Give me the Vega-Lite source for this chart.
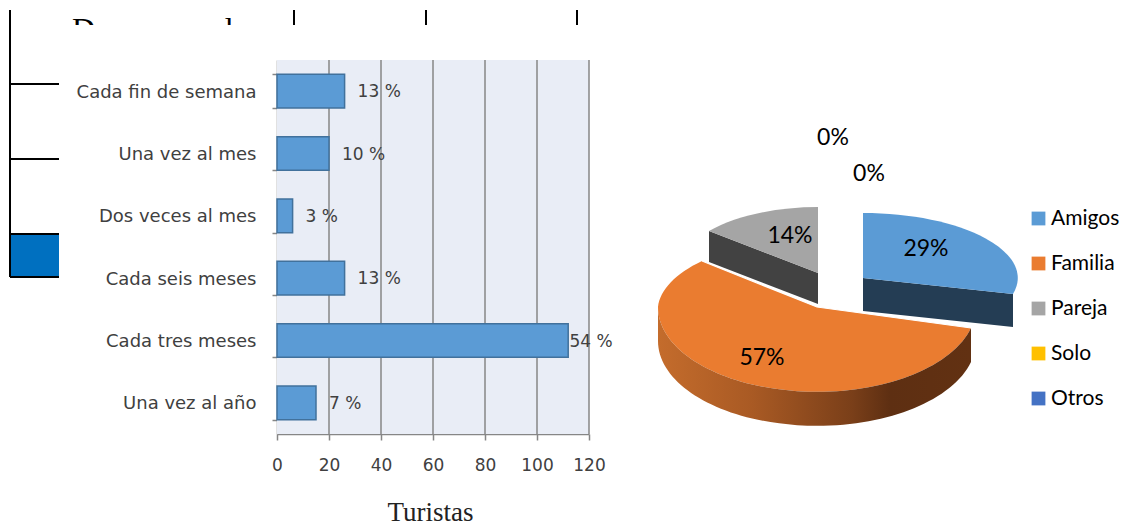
{
  "$schema": "https://vega.github.io/schema/vega-lite/v6.json",
  "width": 1125,
  "height": 527,
  "padding": 0,
  "autosize": {"type": "none"},
  "background": "#ffffff",
  "config": {"view": {"stroke": null}},
  "params": [
    {
      "name": "despiece",
      "expr": "{Amigos:{ax:46,ay:-29,rx:155,ry:65,rxb:155,ryb:65,d:33,lx:109,ly:-60},Familia:{ax:0,ay:0,rx:159,ry:85,rxb:149,ryb:72,d:34,lx:-55,ly:49},Pareja:{ax:1,ay:-34,rx:142,ry:66,rxb:142,ryb:66,d:31,lx:-27,ly:-73},Solo:{ax:0,ay:0,rx:1,ry:1,rxb:1,ryb:1,d:0,lx:16,ly:-171},Otros:{ax:0,ay:0,rx:1,ry:1,rxb:1,ryb:1,d:0,lx:52,ly:-135}}"
    }
  ],
  "datasets": {
    "frecuencia": [
      {"frecuencia": "Cada fin de semana", "turistas": 26, "porcentaje": "13 %"},
      {"frecuencia": "Una vez al mes", "turistas": 20, "porcentaje": "10 %"},
      {"frecuencia": "Dos veces al mes", "turistas": 6, "porcentaje": "3 %"},
      {"frecuencia": "Cada seis meses", "turistas": 26, "porcentaje": "13 %"},
      {"frecuencia": "Cada tres meses", "turistas": 112, "porcentaje": "54 %"},
      {"frecuencia": "Una vez al año", "turistas": 15, "porcentaje": "7 %"}
    ],
    "compania": [
      {"orden": 1, "destino": "Amigos", "cuota": 29},
      {"orden": 2, "destino": "Familia", "cuota": 57},
      {"orden": 3, "destino": "Pareja", "cuota": 14},
      {"orden": 4, "destino": "Solo", "cuota": 0},
      {"orden": 5, "destino": "Otros", "cuota": 0}
    ]
  },
  "resolve": {"scale": {"x": "independent", "y": "independent"}, "axis": {"x": "independent", "y": "independent"}},
  "layer": [
    {
      "layer": [
        {
          "data": {"values": [{"texto": "Dos veces al"}]},
          "mark": {"type": "text", "font": "Liberation Serif", "fontSize": 32, "align": "left", "baseline": "alphabetic", "color": "#000000"},
          "encoding": {
            "x": {"datum": -222, "type": "quantitative", "axis": null, "scale": {"domain": [0, 283], "range": [294, 577], "nice": false, "zero": false}},
            "y": {"datum": 0.413, "type": "quantitative", "axis": null, "scale": {"domain": [1, 3], "range": [84, 234], "nice": false, "zero": false}},
            "text": {"field": "texto"}
          }
        },
        {
          "data": {"values": [{"celda": "encabezado"}]},
          "mark": {"type": "rect", "fill": "#ffffff"},
          "encoding": {
            "x": {"datum": -234, "type": "quantitative", "axis": null},
            "x2": {"datum": 296},
            "y": {"datum": 0.213, "type": "quantitative", "axis": null},
            "y2": {"datum": 0.64}
          }
        },
        {
          "data": {"values": [{"celda": "resaltada"}]},
          "mark": {"type": "rect", "fill": "#0070c0"},
          "encoding": {
            "x": {"datum": -284, "type": "quantitative", "axis": null},
            "x2": {"datum": -235},
            "y": {"datum": 3, "type": "quantitative", "axis": null},
            "y2": {"datum": 3.573}
          }
        },
        {
          "data": {"values": [{"fila": 1}, {"fila": 2}, {"fila": 3}, {"fila": 3.573}]},
          "mark": {"type": "rule", "color": "#000000", "strokeWidth": 1.8},
          "encoding": {
            "x": {"datum": -284, "type": "quantitative", "axis": null},
            "x2": {"datum": -235},
            "y": {"field": "fila", "type": "quantitative", "axis": null}
          }
        },
        {
          "data": {"values": [{"borde": -284}]},
          "mark": {"type": "rule", "color": "#000000", "strokeWidth": 2},
          "encoding": {
            "x": {"field": "borde", "type": "quantitative", "axis": null},
            "y": {"datum": 0.013, "type": "quantitative", "axis": null},
            "y2": {"datum": 3.573}
          }
        },
        {
          "data": {"values": [{"borde": 0}, {"borde": 132}, {"borde": 283}]},
          "mark": {"type": "rule", "color": "#000000", "strokeWidth": 2},
          "encoding": {
            "x": {"field": "borde", "type": "quantitative", "axis": null},
            "y": {"datum": 0.013, "type": "quantitative", "axis": null},
            "y2": {"datum": 0.213}
          }
        }
      ]
    },
    {
      "layer": [
        {
          "data": {"values": [{"panel": "fondo"}]},
          "mark": {"type": "rect", "fill": "#e9edf6"},
          "encoding": {
            "x": {"datum": 0, "type": "quantitative", "axis": null, "scale": {"domain": [0, 120], "range": [277, 589]}},
            "x2": {"datum": 120},
            "y": {"datum": 0, "type": "quantitative", "axis": null, "scale": {"domain": [0, 1], "range": [434, 60]}},
            "y2": {"datum": 1}
          }
        },
        {
          "data": {"values": [{"marca": 20}, {"marca": 40}, {"marca": 60}, {"marca": 80}, {"marca": 100}, {"marca": 120}]},
          "mark": {"type": "rule", "color": "#868686", "strokeWidth": 1.5},
          "encoding": {
            "x": {"field": "marca", "type": "quantitative", "axis": null},
            "y": {"datum": 0, "type": "quantitative", "axis": null},
            "y2": {"datum": 1}
          }
        }
      ]
    },
    {
      "data": {"name": "frecuencia"},
      "mark": {"type": "bar", "fill": "#5b9bd5", "stroke": "#41719c", "strokeWidth": 1.5},
      "encoding": {
        "x": {
          "field": "turistas",
          "type": "quantitative",
          "scale": {"domain": [0, 120], "range": [277, 589]},
          "axis": {
            "orient": "bottom",
            "offset": -93,
            "title": "Turistas",
            "titleFont": "Liberation Serif",
            "titleFontSize": 27,
            "titleFontWeight": "normal",
            "titleColor": "#222222",
            "titlePadding": 26,
            "titleX": 430,
            "values": [0, 20, 40, 60, 80, 100, 120],
            "grid": false,
            "domainColor": "#868686",
            "domainWidth": 1.5,
            "tickColor": "#868686",
            "tickWidth": 1.5,
            "tickSize": 6,
            "labelFont": "DejaVu Sans",
            "labelFontSize": 17,
            "labelColor": "#404040",
            "labelPadding": 17,
            "labelFlush": false,
            "labelOverlap": false
          }
        },
        "y": {
          "field": "frecuencia",
          "type": "nominal",
          "sort": null,
          "scale": {"range": [60, 434], "paddingInner": 0.46, "paddingOuter": 0.23},
          "axis": {
            "orient": "left",
            "offset": -277,
            "title": null,
            "grid": false,
            "tickBand": "extent",
            "domainColor": "#868686",
            "domainWidth": 1.5,
            "tickColor": "#868686",
            "tickWidth": 1.5,
            "tickSize": 5,
            "labelFont": "DejaVu Sans",
            "labelFontSize": 18,
            "labelColor": "#404040",
            "labelPadding": 16,
            "labelOffset": 1,
            "labelLimit": 260
          }
        }
      }
    },
    {
      "data": {"name": "frecuencia"},
      "transform": [
        {"calculate": "min(datum.turistas + 5, 112.5)", "as": "ancla"}
      ],
      "mark": {"type": "text", "font": "DejaVu Sans", "fontSize": 17, "align": "left", "color": "#404040", "dy": 1},
      "encoding": {
        "x": {"field": "ancla", "type": "quantitative", "axis": null, "scale": {"domain": [0, 120], "range": [277, 589]}},
        "y": {"field": "frecuencia", "type": "nominal", "sort": null, "axis": null, "scale": {"range": [60, 434], "paddingInner": 0.46, "paddingOuter": 0.23}},
        "text": {"field": "porcentaje"}
      }
    },
    {
      "data": {"name": "compania"},
      "transform": [
        {"window": [{"op": "sum", "field": "cuota", "as": "acum"}], "sort": [{"field": "orden"}]},
        {"calculate": "despiece[datum.destino]", "as": "g"},
        {"calculate": "(datum.acum - datum.cuota) / 100 * 2 * PI", "as": "a0"},
        {"calculate": "datum.acum / 100 * 2 * PI", "as": "a1"},
        {"calculate": "round(datum.g.ax + datum.g.rx * sin(datum.a0))", "as": "x0"},
        {"calculate": "round(datum.g.ay - datum.g.ry * cos(datum.a0))", "as": "y0"},
        {"calculate": "round(datum.g.ax + datum.g.rxb * sin(datum.a1))", "as": "x1"},
        {"calculate": "round(datum.g.ay - datum.g.ryb * cos(datum.a1))", "as": "y1"},
        {"calculate": "datum.a1 - datum.a0 > PI", "as": "mayor"},
        {"calculate": "datum.a0 == 0 ? datum.x1 : datum.x0", "as": "ex"},
        {"calculate": "datum.a0 == 0 ? datum.y1 : datum.y0", "as": "ey"},
        {"calculate": "'M' + datum.g.ax + ',' + datum.g.ay + 'L' + datum.x0 + ',' + datum.y0 + 'A' + datum.g.rx + ',' + datum.g.ry + ' 0 0 1 ' + (datum.mayor ? (datum.g.ax - datum.g.rx) + ',' + datum.g.ay + 'A' + datum.g.rx + ',' + datum.g.ryb + ' 0 0 1 ' : '') + datum.x1 + ',' + datum.y1 + 'Z'", "as": "cara"},
        {"calculate": "'M' + datum.g.ax + ',' + datum.g.ay + 'L' + datum.ex + ',' + datum.ey + 'L' + datum.ex + ',' + (datum.ey + datum.g.d) + 'L' + datum.g.ax + ',' + (datum.g.ay + datum.g.d) + 'Z'", "as": "pared"},
        {"calculate": "'M' + datum.x0 + ',' + datum.y0 + 'A' + datum.g.rx + ',' + datum.g.ry + ' 0 0 1 ' + (datum.g.ax - datum.g.rx) + ',' + datum.g.ay + 'L' + (datum.g.ax - datum.g.rx) + ',' + (datum.g.ay + datum.g.d) + 'A' + datum.g.rx + ',' + datum.g.ry + ' 0 0 0 ' + datum.x0 + ',' + (datum.y0 + datum.g.d) + 'Z'", "as": "borde"},
        {"calculate": "'M' + datum.x1 + ',' + datum.y1 + 'L' + datum.g.ax + ',' + datum.g.ay + 'L' + datum.x0 + ',' + datum.y0", "as": "corte"},
        {"calculate": "datum.cuota + '%'", "as": "etiqueta"},
        {"calculate": "datum.g.lx", "as": "lx"},
        {"calculate": "datum.g.ly + 2", "as": "ly"}
      ],
      "layer": [
        {
          "transform": [{"filter": "datum.destino == 'Amigos'"}],
          "mark": {"type": "point", "filled": true, "fill": "#243d54", "opacity": 1, "size": 4, "strokeWidth": 0},
          "encoding": {
            "x": {"datum": 0, "type": "quantitative", "axis": null, "scale": {"domain": [-100, 100], "range": [717, 917]}},
            "y": {"datum": 0, "type": "quantitative", "axis": null, "scale": {"domain": [-100, 100], "range": [207, 407]}},
            "shape": {"field": "pared", "type": "nominal", "scale": null, "legend": null}
          }
        },
        {
          "transform": [{"filter": "datum.destino == 'Pareja'"}],
          "mark": {"type": "point", "filled": true, "fill": "#424242", "opacity": 1, "size": 4, "strokeWidth": 0},
          "encoding": {
            "x": {"datum": 0, "type": "quantitative", "axis": null},
            "y": {"datum": 0, "type": "quantitative", "axis": null},
            "shape": {"field": "pared", "type": "nominal", "scale": null, "legend": null}
          }
        },
        {
          "transform": [{"filter": "datum.cuota > 0"}],
          "mark": {"type": "point", "filled": true, "opacity": 1, "size": 4, "strokeWidth": 0},
          "encoding": {
            "x": {"datum": 0, "type": "quantitative", "axis": null},
            "y": {"datum": 0, "type": "quantitative", "axis": null},
            "shape": {"field": "cara", "type": "nominal", "scale": null, "legend": null},
            "fill": {
              "field": "destino",
              "type": "nominal",
              "scale": {"domain": ["Amigos", "Familia", "Pareja", "Solo", "Otros"], "range": ["#5b9bd5", "#ea7c30", "#a5a5a5", "#ffc000", "#4472c4"]},
              "legend": {
                "orient": "none",
                "legendX": 1028,
                "legendY": 208,
                "title": null,
                "symbolType": "square",
                "symbolSize": 190,
                "symbolStrokeWidth": 0,
                "symbolOpacity": 1,
                "labelFont": "Lato",
                "labelFontSize": 21,
                "labelColor": "#000000",
                "labelOffset": 2,
                "rowPadding": 23
              }
            }
          }
        },
        {
          "transform": [{"filter": "datum.mayor"}],
          "mark": {
            "type": "point",
            "filled": true,
            "opacity": 1,
            "size": 4,
            "strokeWidth": 0,
            "fill": {
              "gradient": "linear",
              "x1": 0,
              "x2": 1,
              "y1": 0,
              "y2": 0,
              "stops": [
                {"offset": 0, "color": "#c46c2c"},
                {"offset": 0.3, "color": "#a95a24"},
                {"offset": 0.62, "color": "#7a3f19"},
                {"offset": 0.74, "color": "#5e2f12"},
                {"offset": 1, "color": "#623112"}
              ]
            }
          },
          "encoding": {
            "x": {"datum": 0, "type": "quantitative", "axis": null},
            "y": {"datum": 0, "type": "quantitative", "axis": null},
            "shape": {"field": "borde", "type": "nominal", "scale": null, "legend": null}
          }
        },
        {
          "transform": [{"filter": "datum.mayor"}],
          "mark": {"type": "point", "filled": false, "stroke": "#ffffff", "strokeWidth": 1.2, "opacity": 1, "size": 4},
          "encoding": {
            "x": {"datum": 0, "type": "quantitative", "axis": null},
            "y": {"datum": 0, "type": "quantitative", "axis": null},
            "shape": {"field": "corte", "type": "nominal", "scale": null, "legend": null}
          }
        },
        {
          "mark": {"type": "text", "font": "Lato", "fontSize": 23, "color": "#000000", "align": "center", "baseline": "middle"},
          "encoding": {
            "x": {"field": "lx", "type": "quantitative", "axis": null},
            "y": {"field": "ly", "type": "quantitative", "axis": null},
            "text": {"field": "etiqueta"}
          }
        }
      ]
    }
  ]
}
